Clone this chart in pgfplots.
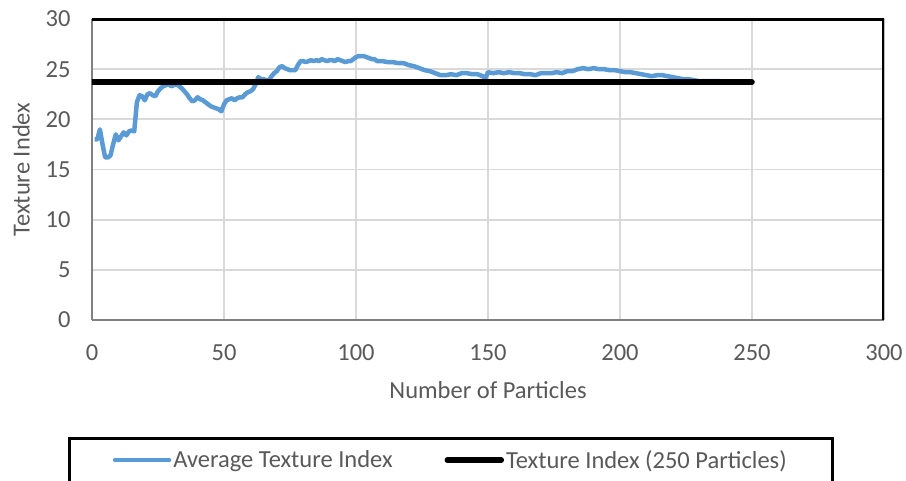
\documentclass[border=0pt]{standalone}
\usepackage{pgfplots}
\pgfplotsset{compat=1.18}
\usepackage{fontspec}
\setmainfont{Carlito}
\definecolor{xlblue}{HTML}{5B9BD5}
\definecolor{gridgray}{HTML}{D9D9D9}
\definecolor{txtgray}{HTML}{595959}
\definecolor{axgray}{HTML}{808080}
\begin{document}
\begin{tikzpicture}
\begin{axis}[
    at={(0,0)}, anchor=south west,
    scale only axis,
    width=792pt, height=301pt,
    xmin=0, xmax=300, ymin=0, ymax=30,
    xtick={0,50,...,300}, ytick={0,5,...,30},
    axis lines=left,
    axis line style={axgray, line width=2.5pt, -},
    major tick length=0pt,
    grid=major,
    major grid style={gridgray, line width=1.8pt},
    tick label style={font=\fontsize{24.5}{29}\selectfont, text=txtgray},
    /pgf/number format/assume math mode=true,
    xticklabel style={yshift=-21pt},
    yticklabel style={xshift=-18pt},
    xlabel={Number of Particles},
    ylabel={Texture Index},
    label style={font=\fontsize{24.5}{29}\selectfont, text=txtgray},
    xlabel style={yshift=-14pt},
    ylabel style={yshift=9pt},
    legend columns=2,
    legend style={at={(0.453,-0.3887)}, anchor=north, draw=black, line width=3pt,
        inner xsep=43.5pt, inner ysep=10pt,
        font=\fontsize{24.5}{29}\selectfont, text=txtgray,
        /tikz/every even column/.style={column sep=50pt}},
    legend image code/.code={\draw[#1, line cap=round] (0pt,0pt) -- (54pt,0pt);},
]
\addplot[xlblue, line width=4.5pt, line join=round] coordinates {
(1,18.0) (2,18.0) (3,19.0) (4,17.5) (5,16.2) (6,16.2) (7,16.4) (8,17.5) (9,18.5) (10,17.9)
(11,18.3) (12,18.7) (13,18.4) (14,18.8) (15,18.9) (16,18.8) (17,21.7) (18,22.4) (19,22.3) (20,21.9)
(21,22.5) (22,22.6) (23,22.4) (24,22.3) (25,22.8) (26,23.1) (27,23.3) (28,23.4) (29,23.5) (30,23.3)
(31,23.4) (32,23.5) (33,23.3) (34,23.1) (35,22.8) (36,22.5) (37,22.1) (38,21.8) (39,21.9) (40,22.2)
(41,22.0) (42,21.9) (43,21.7) (44,21.5) (45,21.3) (46,21.2) (47,21.1) (48,21.0) (49,20.8) (50,21.5)
(51,21.9) (52,22.0) (53,22.1) (54,21.9) (55,22.1) (56,22.2) (57,22.2) (58,22.5) (59,22.7) (60,22.8)
(61,23.0) (62,23.5) (63,24.2) (64,24.0) (65,24.0) (66,23.9) (67,23.9) (68,24.3) (69,24.6) (70,24.8)
(71,25.2) (72,25.3) (73,25.1) (74,25.0) (75,24.9) (76,24.9) (77,24.9) (78,25.4) (79,25.8) (80,25.8)
(81,25.7) (82,25.8) (83,25.9) (84,25.8) (85,25.9) (86,25.8) (87,26.0) (88,25.9) (89,25.8) (90,25.9)
(91,25.9) (92,25.8) (93,26.0) (94,25.9) (95,25.8) (96,25.7) (97,25.8) (98,25.8) (99,26.0) (100,26.2)
(101,26.3) (102,26.3) (103,26.3) (104,26.2) (105,26.1) (106,26.0) (107,26.0) (108,25.8) (110,25.8)
(112,25.7) (114,25.7) (116,25.6) (118,25.6) (120,25.4) (122,25.3) (124,25.1) (126,24.9) (128,24.8)
(130,24.6) (132,24.4) (134,24.4) (136,24.5) (138,24.4) (140,24.6) (142,24.6) (144,24.5) (146,24.5)
(148,24.3) (149,24.1) (150,24.7) (152,24.6) (154,24.7) (156,24.6) (158,24.7) (160,24.6) (162,24.6)
(164,24.5) (166,24.5) (168,24.4) (170,24.6) (172,24.6) (174,24.6) (176,24.7) (178,24.6) (180,24.8)
(182,24.8) (184,25.0) (186,25.1) (188,25.0) (190,25.1) (192,25.0) (194,25.0) (196,24.9) (198,24.9)
(200,24.8) (202,24.7) (204,24.7) (206,24.6) (208,24.5) (210,24.4) (212,24.3) (214,24.4) (216,24.4)
(218,24.3) (220,24.2) (222,24.1) (224,24.0) (226,24.0) (228,23.9) (230,23.8) (232,23.8) (234,23.8)
(236,23.8) (238,23.8) (240,23.7)
};
\addlegendentry{Average Texture Index}
\addplot[black, line width=5.5pt, line cap=round] coordinates {(0,23.7) (250,23.7)};
\addlegendentry{Texture Index (250 Particles)}
% empty row so the frame runs below the page edge, as in the reference
\addlegendimage{empty legend}\addlegendentry{}
\addlegendimage{empty legend}\addlegendentry{}
\draw[black, line width=4pt] (rel axis cs:0,1) -- (rel axis cs:1,1) -- (rel axis cs:1,0);
\end{axis}
\pgfresetboundingbox
\path[use as bounding box] (-92pt,-161pt) rectangle (814pt,320pt);
\end{tikzpicture}
\end{document}
